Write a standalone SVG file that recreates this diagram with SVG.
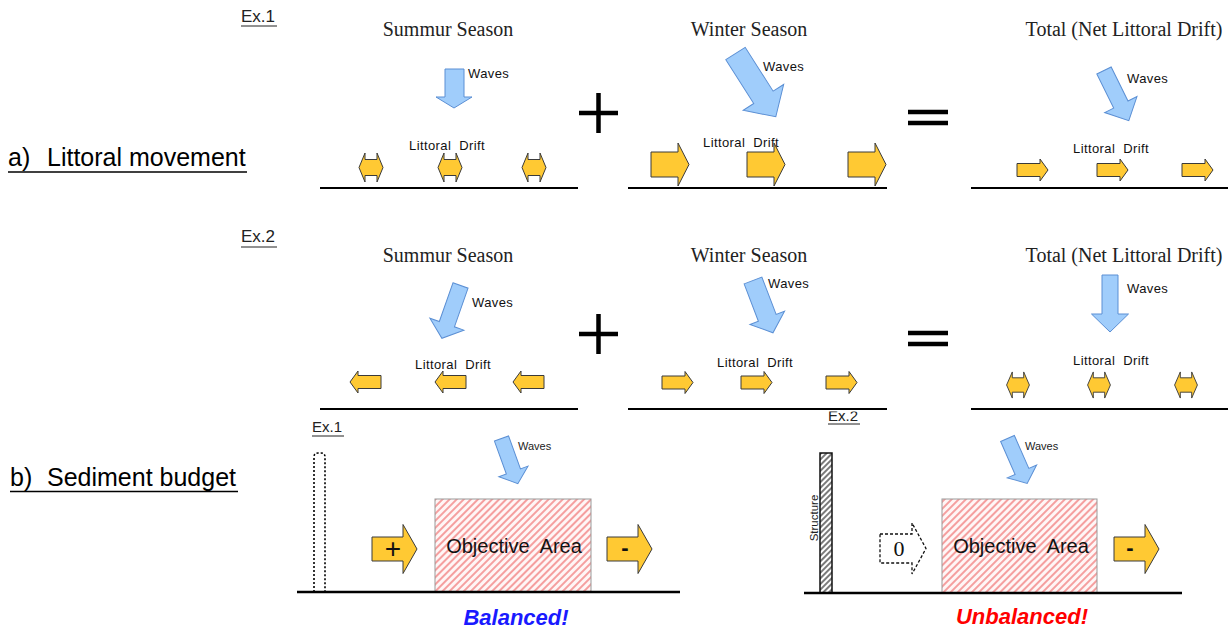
<svg xmlns="http://www.w3.org/2000/svg" width="1232" height="630" viewBox="0 0 1232 630">
  <defs>
    <style>
      .title { font-family: "Liberation Serif", "Times New Roman", serif; font-size: 20px; fill: #222; text-anchor: middle; }
      .sec { font-family: "Liberation Sans", Arial, sans-serif; font-size: 25px; fill: #000; }
      .ex { font-family: "Liberation Sans", Arial, sans-serif; font-size: 17px; fill: #222; }
      .exs { font-family: "Liberation Sans", Arial, sans-serif; font-size: 15px; fill: #222; }
      .lbl { font-family: "Liberation Sans", Arial, sans-serif; font-size: 13px; fill: #111; letter-spacing: 0.4px; }
      .lbls { font-family: "Liberation Sans", Arial, sans-serif; font-size: 11px; fill: #222; }
      .area { font-family: "Liberation Sans", Arial, sans-serif; font-size: 20px; fill: #111; text-anchor: middle; }
      .wave { fill: #a0cdfb; stroke: #5b8fd4; stroke-width: 1; stroke-linejoin: miter; }
      .drift { fill: #ffc933; stroke: #3a3a3a; stroke-width: 1; }
      .ground { stroke: #000; stroke-width: 2; fill: none; }
      .groundb { stroke: #000; stroke-width: 2.5; fill: none; }
      .op { stroke: #000; stroke-width: 4.5; fill: none; }
      .uline { stroke: #000; stroke-width: 1.5; }
      .status { font-family: "Liberation Sans", Arial, sans-serif; font-size: 22px; font-weight: bold; font-style: italic; text-anchor: middle; }
    </style>
    <pattern id="redHatch" width="5" height="5" patternUnits="userSpaceOnUse" patternTransform="rotate(45)">
      <rect width="5" height="5" fill="#fff6f6"/>
      <line x1="1" y1="0" x2="1" y2="5" stroke="#f07070" stroke-width="1.3"/>
    </pattern>
    <pattern id="blackHatch" width="4" height="4" patternUnits="userSpaceOnUse" patternTransform="rotate(45)">
      <rect width="4" height="4" fill="#fff"/>
      <line x1="1" y1="0" x2="1" y2="4" stroke="#333" stroke-width="1.3"/>
    </pattern>
    <clipPath id="exCut">
      <rect x="800" y="411.5" width="80" height="20"/>
    </clipPath>
    <!-- two-way drift (equal transport both directions) -->
    <path id="dbl" d="M-12,0 L-6,-14.5 V-8 H6 V-14.5 L12,0 L6,14.5 V8 H-6 V14.5 Z"/>
    <!-- one-way drift arrows, origin at the left middle -->
    <path id="bigR" d="M0,-12.5 H27 V-21.5 L38,0 L27,21.5 V12.5 H0 Z"/>
    <path id="smallR" d="M0,-6.5 H23 V-11 L31,0 L23,11 V6.5 H0 Z"/>
    <path id="budR" d="M0,-12 H31 V-24.5 L45,0 L31,24.5 V12 H0 Z"/>
  </defs>

  <rect width="1232" height="630" fill="#fff"/>

  <!-- section headings -->
  <g id="heading-a">
    <text class="sec" x="8" y="166"><tspan>a)</tspan><tspan x="47">Littoral movement</tspan></text>
    <line class="uline" x1="8" y1="172" x2="247" y2="172"/>
  </g>
  <g id="heading-b">
    <text class="sec" x="10" y="486"><tspan>b)</tspan><tspan x="47">Sediment budget</tspan></text>
    <line class="uline" x1="10" y1="491.5" x2="238" y2="491.5"/>
  </g>
  <g id="ex1-tag">
    <text class="ex" x="241" y="22">Ex.1</text>
    <line x1="241" y1="26" x2="277" y2="26" stroke="#222" stroke-width="1"/>
  </g>
  <g id="ex2-tag">
    <text class="ex" x="241" y="242">Ex.2</text>
    <line x1="241" y1="247" x2="277" y2="247" stroke="#222" stroke-width="1"/>
  </g>

  <!-- Ex.1 : summer -->
  <g id="ex1-summer">
    <text class="title" x="448" y="36">Summur Season</text>
    <polygon class="wave" points="445,69 464,69 464,97 472,97 454,108 436,97 445,97"/>
    <text class="lbl" x="468" y="78">Waves</text>
    <text class="lbl" x="409" y="150" xml:space="preserve">Littoral  Drift</text>
    <use href="#dbl" class="drift" transform="translate(371,167.5)"/>
    <use href="#dbl" class="drift" transform="translate(450,167.5)"/>
    <use href="#dbl" class="drift" transform="translate(534,167.5)"/>
    <line class="ground" x1="320" y1="188" x2="578" y2="188"/>
  </g>

  <!-- Ex.1 : winter -->
  <g id="ex1-winter">
    <text class="title" x="749" y="36">Winter Season</text>
    <polygon class="wave" transform="translate(735.5,53.5) rotate(-32.5)" points="-11.5,0 11.5,0 11.5,52 24,52 0,75 -24,52 -11.5,52"/>
    <text class="lbl" x="763" y="71">Waves</text>
    <text class="lbl" x="703" y="147" xml:space="preserve">Littoral  Drift</text>
    <use href="#bigR" class="drift" transform="translate(651,164.5)"/>
    <use href="#bigR" class="drift" transform="translate(747,164.5)"/>
    <use href="#bigR" class="drift" transform="translate(848,164.5)"/>
    <line class="ground" x1="628" y1="188" x2="887" y2="188"/>
  </g>

  <!-- Ex.1 : net -->
  <g id="ex1-total">
    <text class="title" x="1124" y="36">Total (Net Littoral Drift)</text>
    <polygon class="wave" transform="translate(1104,70.5) rotate(-26.3)" points="-8,0 8,0 8,38 18,38 0,56 -18,38 -8,38"/>
    <text class="lbl" x="1127" y="83">Waves</text>
    <text class="lbl" x="1073" y="153" xml:space="preserve">Littoral  Drift</text>
    <use href="#smallR" class="drift" transform="translate(1017,170)"/>
    <use href="#smallR" class="drift" transform="translate(1097,170)"/>
    <use href="#smallR" class="drift" transform="translate(1182,170)"/>
    <line class="ground" x1="971" y1="188" x2="1228" y2="188"/>
  </g>

  <!-- Ex.2 : summer -->
  <g id="ex2-summer">
    <text class="title" x="448" y="262">Summur Season</text>
    <polygon class="wave" transform="translate(460.5,285.5) rotate(19.4)" points="-8,0 8,0 8,41 18,41 0,56 -18,41 -8,41"/>
    <text class="lbl" x="472" y="307">Waves</text>
    <text class="lbl" x="415" y="369" xml:space="preserve">Littoral  Drift</text>
    <use href="#smallR" class="drift" transform="translate(381,382) scale(-1,1)"/>
    <use href="#smallR" class="drift" transform="translate(466,382) scale(-1,1)"/>
    <use href="#smallR" class="drift" transform="translate(544,382) scale(-1,1)"/>
    <line class="ground" x1="320" y1="409" x2="578" y2="409"/>
  </g>

  <!-- Ex.2 : winter -->
  <g id="ex2-winter">
    <text class="title" x="749" y="262">Winter Season</text>
    <polygon class="wave" transform="translate(753,280.5) rotate(-20.9)" points="-9.5,0 9.5,0 9.5,40 18.5,40 0,56 -18.5,40 -9.5,40"/>
    <text class="lbl" x="768" y="288">Waves</text>
    <text class="lbl" x="717" y="367" xml:space="preserve">Littoral  Drift</text>
    <use href="#smallR" class="drift" transform="translate(662,382.5)"/>
    <use href="#smallR" class="drift" transform="translate(741,382.5)"/>
    <use href="#smallR" class="drift" transform="translate(826,382.5)"/>
  </g>

  <!-- Ex.2 : net -->
  <g id="ex2-total">
    <text class="title" x="1124" y="262">Total (Net Littoral Drift)</text>
    <polygon class="wave" points="1102,275 1118,275 1118,314 1128.5,314 1110,332 1091.5,314 1102,314"/>
    <text class="lbl" x="1127" y="293">Waves</text>
    <text class="lbl" x="1073" y="365" xml:space="preserve">Littoral  Drift</text>
    <use href="#dbl" class="drift" transform="translate(1018,385) scale(0.95,0.9)"/>
    <use href="#dbl" class="drift" transform="translate(1099,385) scale(0.95,0.9)"/>
    <use href="#dbl" class="drift" transform="translate(1186,385) scale(0.95,0.9)"/>
    <line class="ground" x1="971" y1="409" x2="1228" y2="409"/>
  </g>

  <!-- plus / equals between the panels -->
  <g id="operators">
    <path class="op" d="M579,113 H618 M598.5,93 V133"/>
    <path class="op" d="M908,112 H948 M908,123 H948"/>
    <path class="op" d="M579,334 H618 M598.5,314 V354"/>
    <path class="op" d="M908,333 H948 M908,344 H948"/>
  </g>

  <!-- Sediment budget, Ex.1 : free boundary -->
  <g id="budget-ex1">
    <text class="exs" x="312" y="432">Ex.1</text>
    <line x1="312" y1="436" x2="344" y2="436" stroke="#222" stroke-width="1"/>
    <path d="M314,592 V457 Q314,453 318,453 H321 Q325,453 325,457 V592" fill="none" stroke="#000" stroke-width="1.6" stroke-dasharray="2,2"/>
    <polygon class="wave" transform="translate(501.5,438.5) rotate(-19.9)" points="-7.5,0 7.5,0 7.5,35 15.5,35 0,48 -15.5,35 -7.5,35"/>
    <text class="lbls" x="518" y="450">Waves</text>
    <rect x="435" y="499" width="156" height="93" fill="url(#redHatch)" stroke="#999" stroke-width="1"/>
    <text class="area" x="514" y="553" xml:space="preserve">Objective  Area</text>
    <use href="#budR" class="drift" transform="translate(372,549)"/>
    <text x="393" y="558" font-family="Liberation Sans, Arial, sans-serif" font-size="28" text-anchor="middle" fill="#111">+</text>
    <use href="#budR" class="drift" transform="translate(607,549)"/>
    <text x="625" y="555" font-family="Liberation Sans, Arial, sans-serif" font-size="22" font-weight="bold" text-anchor="middle" fill="#111">-</text>
    <line class="groundb" x1="297" y1="592" x2="680" y2="592"/>
    <text class="status" x="516" y="625" fill="#1a1aff">Balanced!</text>
  </g>

  <!-- Sediment budget, Ex.2 : structure blocks the supply -->
  <g id="budget-ex2">
    <text class="exs" x="828" y="421" clip-path="url(#exCut)">Ex.2</text>
    <line x1="828" y1="424" x2="860" y2="424" stroke="#222" stroke-width="1"/>
    <rect x="820" y="453" width="12" height="140" fill="url(#blackHatch)" stroke="#111" stroke-width="1.5"/>
    <text transform="translate(818,518) rotate(-90)" font-family="Liberation Sans, Arial, sans-serif" font-size="11.5" text-anchor="middle" fill="#222">Structure</text>
    <polygon class="wave" transform="translate(1007.5,438.5) rotate(-23.7)" points="-7.5,0 7.5,0 7.5,36 16,36 0,49 -16,36 -7.5,36"/>
    <text class="lbls" x="1025" y="450">Waves</text>
    <rect x="942" y="499" width="155" height="94" fill="url(#redHatch)" stroke="#999" stroke-width="1"/>
    <text class="area" x="1021" y="553" xml:space="preserve">Objective  Area</text>
    <path d="M880,534 H912 V523 L926,548.5 L912,574 V563 H880 Z" fill="#fff" stroke="#111" stroke-width="1.3" stroke-dasharray="3,2"/>
    <text x="899" y="556" font-family="Liberation Serif, Times New Roman, serif" font-size="22" text-anchor="middle" fill="#111">0</text>
    <use href="#budR" class="drift" transform="translate(1114,549)"/>
    <text x="1130" y="555" font-family="Liberation Sans, Arial, sans-serif" font-size="22" font-weight="bold" text-anchor="middle" fill="#111">-</text>
    <line class="groundb" x1="804" y1="593" x2="1182" y2="593"/>
    <text class="status" x="1022" y="624" fill="#ff0000">Unbalanced!</text>
  </g>

  <!-- shoreline of the Ex.2 winter panel, drawn last so it sits over the tag below -->
  <line class="ground" x1="628" y1="409" x2="887" y2="409"/>
</svg>
